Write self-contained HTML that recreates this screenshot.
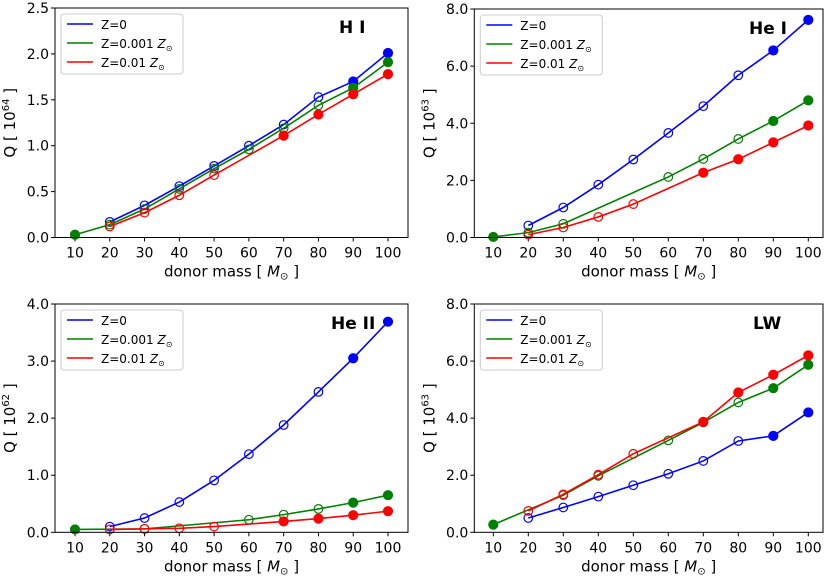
<!DOCTYPE html>
<html><head><meta charset="utf-8"><style>
body{margin:0;background:#fff;}
svg{display:block;font-family:"DejaVu Sans","Liberation Sans",sans-serif;}
</style></head><body>
<svg id="fig" width="830" height="578" viewBox="0 0 830 578"></svg>
<script>
const masses = [10,20,30,40,50,60,70,80,90,100];
const seriesNames = ["Z=0","Z=0.001","Z=0.01"];
const seriesColors = ["#0000ff","#008000","#ff0000"];
const hiZ0   = [null,0.17,0.35,0.56,0.78,1.00,1.23,1.53,1.70,2.01];
const hiZ1   = [0.03,0.14,0.31,0.53,0.75,0.96,1.19,1.44,1.63,1.91];
const hiZ2   = [null,0.12,0.27,0.46,0.68,null,1.11,1.34,1.56,1.78];
const hiF0   = [0,0,0,0,0,0,0,0,1,1];
const hiF1   = [1,0,0,0,0,0,0,0,1,1];
const hiF2   = [0,0,0,0,0,0,1,1,1,1];
const heiZ0  = [null,0.42,1.05,1.85,2.73,3.66,4.60,5.68,6.55,7.62];
const heiZ1  = [0.02,0.17,0.48,null,null,2.12,2.75,3.45,4.08,4.80];
const heiZ2  = [null,0.10,0.35,0.72,1.17,null,2.27,2.74,3.33,3.92];
const heiF0  = [0,0,0,0,0,0,0,0,1,1];
const heiF1  = [1,0,0,0,0,0,0,0,1,1];
const heiF2  = [0,0,0,0,0,0,1,1,1,1];
const heiiZ0 = [null,0.10,0.25,0.53,0.91,1.37,1.88,2.46,3.05,3.69];
const heiiZ1 = [0.05,null,0.06,null,null,0.22,0.31,0.41,0.52,0.65];
const heiiZ2 = [null,0.05,0.06,0.07,0.10,null,0.19,0.24,0.30,0.37];
const heiiF0 = [0,0,0,0,0,0,0,0,1,1];
const heiiF1 = [1,0,0,0,0,0,0,0,1,1];
const heiiF2 = [0,0,0,0,0,0,1,1,1,1];
const lwZ0   = [null,0.50,0.87,1.25,1.65,2.05,2.50,3.20,3.38,4.20];
const lwZ1   = [0.27,null,1.30,1.98,null,3.22,3.85,4.55,5.05,5.87];
const lwZ2   = [null,0.75,1.33,2.02,2.75,null,3.87,4.90,5.52,6.20];
const lwF0   = [0,0,0,0,0,0,0,0,1,1];
const lwF1   = [1,0,0,0,0,0,0,0,1,1];
const lwF2   = [0,0,0,0,0,0,1,1,1,1];
const hiTicks = ["0.0","0.5","1.0","1.5","2.0","2.5"];
const heiTicks = ["0.0","2.0","4.0","6.0","8.0"];
const heiiTicks = ["0.0","1.0","2.0","3.0","4.0"];
const lwTicks = ["0.0","2.0","4.0","6.0","8.0"];

const NS="http://www.w3.org/2000/svg";
const svg=document.getElementById('fig');
function mk(tag,attrs,parent,text){const e=document.createElementNS(NS,tag);for(const k in attrs)e.setAttribute(k,attrs[k]);if(text!==undefined)e.textContent=text;(parent||svg).appendChild(e);return e;}

const panels=[
 {id:'hi',title:'H I',exp:'64',L:55,R:408,T:8,B:237.5,x10:75,x100:388,ymax:2.5,ticks:hiTicks,data:[hiZ0,hiZ1,hiZ2],fill:[hiF0,hiF1,hiF2],tx:339},
 {id:'hei',title:'He I',exp:'63',L:474.3,R:823,T:9,B:237.5,x10:493.3,x100:808.3,ymax:8,ticks:heiTicks,data:[heiZ0,heiZ1,heiZ2],fill:[heiF0,heiF1,heiF2],tx:749},
 {id:'heii',title:'He II',exp:'62',L:55,R:408,T:304,B:532.3,x10:75,x100:388,ymax:4,ticks:heiiTicks,data:[heiiZ0,heiiZ1,heiiZ2],fill:[heiiF0,heiiF1,heiiF2],tx:331},
 {id:'lw',title:'LW',exp:'63',L:474.3,R:823,T:304,B:532.3,x10:493.3,x100:808.3,ymax:8,ticks:lwTicks,data:[lwZ0,lwZ1,lwZ2],fill:[lwF0,lwF1,lwF2],tx:753}
];
panels.forEach(p=>{
 const g=mk('g',{});
 
 
 const xs=m=>p.x10+(m-10)*(p.x100-p.x10)/90;
 const ys=v=>p.B-v*(p.B-p.T)/p.ymax;
 const n=p.ticks.length;
 p.ticks.forEach((t,i)=>{const v=p.ymax*i/(n-1);const y=ys(v);
  mk('line',{x1:p.L-4,x2:p.L,y1:y,y2:y,stroke:'#000','stroke-width':1},g);
  const tl=mk('text',{x:p.L-6,y:y+5,'text-anchor':'end','font-size':14},g,t);
  
  
 });
 masses.forEach(m=>{const x=xs(m);
  mk('line',{x1:x,x2:x,y1:p.B,y2:p.B+4,stroke:'#000','stroke-width':1},g);
  const tl=mk('text',{x:x,y:p.B+20,'text-anchor':'middle','font-size':14},g,String(m));
  
  
 });
 p.data.forEach((arr,si)=>{
  const pts=[];arr.forEach((v,i)=>{if(v!==null)pts.push([xs(masses[i]),ys(v),i]);});
  const pl=mk('polyline',{points:pts.map(q=>q[0]+','+q[1]).join(' '),fill:'none',stroke:seriesColors[si],'stroke-width':1.6},g);
  
  
  pts.forEach(q=>{const f=p.fill[si][q[2]];
   const c=mk('circle',{cx:q[0],cy:q[1],r:f?4.5:4.3,fill:f?seriesColors[si]:'none',stroke:seriesColors[si],'stroke-width':1.2},g);
   
   
  });
 });
 const fr=mk('rect',{x:p.L,y:p.T,width:p.R-p.L,height:p.B-p.T,fill:'none',stroke:'#000','stroke-width':1},g);
 
 
 const ti=mk('text',{x:p.tx,y:p.T+25,'font-size':17,'font-weight':'bold'},g,p.title);
 
 
 const lg=mk('g',{},g);
 
 
 const lx=p.L+6, ly=p.T+6;
 mk('rect',{x:lx,y:ly,width:122,height:60,rx:3,fill:'#fff',stroke:'#ccc','stroke-width':1},lg);
 const labs=[['Z=0',''],['Z=0.001 ','Z'],['Z=0.01 ','Z']];
 labs.forEach((l,i)=>{const y=ly+10+i*19;
  mk('line',{x1:lx+6,x2:lx+32,y1:y,y2:y,stroke:seriesColors[i],'stroke-width':1.6},lg);
  const t=mk('text',{x:lx+40,y:y+5,'font-size':12},lg,l[0]);
  
  
  if(l[1]){mk('tspan',{'font-style':'italic'},t,'Z');mk('tspan',{'font-size':8,dy:3},t,'⊙');}
 });
 const xl=mk('text',{x:(p.L+p.R)/2,y:p.B+39,'text-anchor':'middle','font-size':15},g,'donor mass [ ');
 mk('tspan',{'font-style':'italic'},xl,'M');mk('tspan',{'font-size':10,dy:3},xl,'⊙');mk('tspan',{dy:-3},xl,' ]');
 
 
 const cx=p.L-40, cy=(p.T+p.B)/2;
 const yl=mk('text',{x:cx,y:cy,'text-anchor':'middle','font-size':15,transform:`rotate(-90 ${cx} ${cy})`},g,'Q [ 10');
 mk('tspan',{'font-size':10,dy:-6},yl,p.exp);mk('tspan',{dy:6},yl,' ]');
 
 
});
</script>
</body></html>
